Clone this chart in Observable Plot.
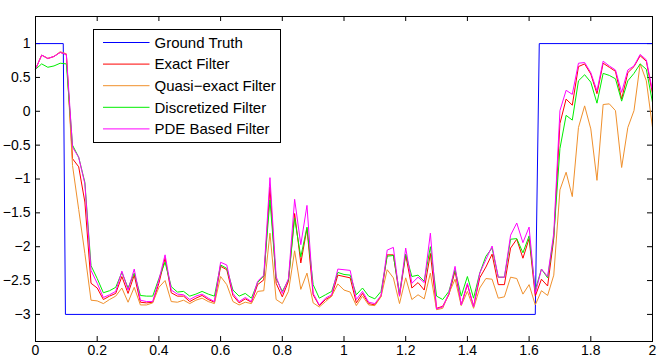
<!DOCTYPE html>
<html>
<head>
<meta charset="utf-8">
<script src="https://cdn.jsdelivr.net/npm/d3@7"></script>
<script src="https://cdn.jsdelivr.net/npm/@observablehq/plot@0.6"></script>
<style>
  html, body { margin: 0; padding: 0; background: #fff; }
  #wrap { position: relative; width: 664px; height: 360px; font-family: "Liberation Sans", Arial, Helvetica, sans-serif; }
  #legend { position: absolute; left: 92.5px; top: 29px; }
</style>
</head>
<body>
<div id="wrap"></div>
<script>
// ---- Data ----
const seriesNames = ["Ground Truth", "Exact Filter", "Quasi\u2212exact Filter", "Discretized Filter", "PDE Based Filter"];
const seriesColors = ["#0000ff", "#ff0000", "#f0902c", "#00ee00", "#ff00ff"];

// sample grid, step 0.02 from 0 to 2
const xs = d3.range(101).map(i => +(i * 0.02).toFixed(2));

const groundX = [0, 0.09, 0.097, 1.62, 1.633, 2];
const groundY = [1, 1, -3, -3, 1, 1];

const exact = [0.62,0.83,0.78,0.81,0.87,0.84,-0.70,-0.82,-1.34,-2.54,
  -2.61,-2.78,-2.73,-2.69,-2.44,-2.69,-2.42,-2.82,-2.83,-2.82,
  -2.54,-2.17,-2.68,-2.73,-2.73,-2.81,-2.76,-2.72,-2.78,-2.82,
  -2.29,-2.34,-2.72,-2.83,-2.77,-2.82,-2.56,-2.49,-1.12,-2.54,
  -2.74,-2.51,-1.51,-2.24,-1.73,-2.71,-2.87,-2.78,-2.73,-2.42,
  -2.44,-2.46,-2.83,-2.69,-2.84,-2.86,-2.73,-2.12,-2.12,-2.73,
  -2.12,-2.61,-2.53,-2.64,-2.10,-2.91,-2.88,-2.71,-2.36,-2.86,
  -2.56,-2.88,-2.46,-2.30,-2.11,-2.56,-2.56,-2.02,-1.89,-2.17,
  -1.88,-2.73,-2.48,-2.58,-1.88,-0.18,0.18,0.09,0.66,0.70,
  0.55,0.26,0.71,0.65,0.59,0.18,0.57,0.66,0.82,0.74,0.26];

const quasi = [0.62,0.83,0.78,0.81,0.88,0.85,-0.80,-1.45,-2.10,-2.79,
  -2.80,-2.84,-2.78,-2.73,-2.61,-2.82,-2.60,-2.86,-2.86,-2.83,
  -2.60,-2.50,-2.81,-2.82,-2.79,-2.84,-2.79,-2.76,-2.81,-2.84,
  -2.44,-2.56,-2.81,-2.86,-2.82,-2.84,-2.66,-2.65,-1.80,-2.78,
  -2.84,-2.66,-2.06,-2.63,-2.39,-2.83,-2.89,-2.81,-2.73,-2.55,
  -2.64,-2.67,-2.87,-2.73,-2.86,-2.87,-2.74,-2.34,-2.46,-2.84,
  -2.46,-2.78,-2.71,-2.77,-2.39,-2.93,-2.91,-2.69,-2.48,-2.87,
  -2.66,-2.91,-2.61,-2.47,-2.48,-2.76,-2.74,-2.45,-2.47,-2.70,
  -2.56,-2.86,-2.65,-2.72,-2.42,-1.16,-0.90,-1.26,-0.24,0.08,
  -0.26,-1.02,0.10,0.11,0.01,-0.83,-0.24,0.01,0.70,0.45,-0.24];

const discretized = [0.62,0.70,0.65,0.67,0.71,0.70,-0.50,-0.68,-1.05,-2.28,
  -2.47,-2.68,-2.65,-2.60,-2.38,-2.61,-2.39,-2.72,-2.73,-2.73,
  -2.47,-2.23,-2.59,-2.67,-2.66,-2.73,-2.70,-2.66,-2.70,-2.73,
  -2.27,-2.32,-2.64,-2.73,-2.69,-2.76,-2.53,-2.43,-1.31,-2.47,
  -2.66,-2.49,-1.58,-2.15,-1.71,-2.56,-2.76,-2.71,-2.66,-2.38,
  -2.41,-2.42,-2.71,-2.61,-2.73,-2.77,-2.66,-2.14,-2.13,-2.68,
  -2.11,-2.44,-2.42,-2.51,-2.00,-2.73,-2.78,-2.66,-2.34,-2.73,
  -2.44,-2.76,-2.39,-2.14,-2.02,-2.45,-2.45,-1.89,-1.88,-2.09,
  -1.84,-2.64,-2.33,-2.46,-1.85,-0.55,-0.06,-0.13,0.45,0.54,
  0.43,0.12,0.56,0.53,0.48,0.15,0.45,0.56,0.70,0.62,0.13];

const pde = [0.62,0.83,0.78,0.81,0.87,0.84,-0.53,-0.68,-1.07,-2.35,
  -2.54,-2.75,-2.71,-2.66,-2.36,-2.64,-2.33,-2.79,-2.81,-2.81,
  -2.49,-2.12,-2.64,-2.70,-2.71,-2.78,-2.73,-2.70,-2.76,-2.81,
  -2.23,-2.27,-2.69,-2.81,-2.75,-2.81,-2.51,-2.42,-0.98,-2.44,
  -2.69,-2.47,-1.30,-1.97,-1.39,-2.69,-2.86,-2.76,-2.71,-2.33,
  -2.34,-2.35,-2.78,-2.66,-2.82,-2.84,-2.72,-2.05,-2.01,-2.73,
  -2.02,-2.54,-2.45,-2.53,-1.80,-2.92,-2.89,-2.69,-2.29,-2.86,
  -2.54,-2.89,-2.39,-2.19,-1.99,-2.45,-2.45,-1.83,-1.65,-1.94,
  -1.71,-2.69,-2.33,-2.44,-1.80,0.01,0.31,0.25,0.71,0.72,
  0.57,0.30,0.74,0.67,0.61,0.28,0.61,0.67,0.84,0.76,0.30];

const xTicks = [0, 0.2, 0.4, 0.6, 0.8, 1, 1.2, 1.4, 1.6, 1.8, 2];
const yTicks = [-3, -2.5, -2, -1.5, -1, -0.5, 0, 0.5, 1];

// ---- Tables ----
const ground = groundX.map((x, i) => ({x, y: groundY[i]}));
const toRows = arr => xs.map((x, i) => ({x, y: arr[i]}));
const filters = [exact, quasi, discretized, pde].map(toRows);

// ---- Layout ----
const W = 664, H = 360;
const mL = 35, mR = 12, mT = 16, mB = 19;
const plotW = W - mL - mR, plotH = H - mT - mB;
const tickLen = 5;
const fmtX = d => String(d);
const fmtY = d => String(d).replace("-", "\u2212");

const chart = Plot.plot({
  width: W, height: H,
  marginLeft: mL, marginRight: mR, marginTop: mT, marginBottom: mB,
  x: {domain: [0, 2]},
  y: {domain: [-3.4, 1.4]},
  style: {fontFamily: "'Liberation Sans', Arial, Helvetica, sans-serif", fontSize: "14px", background: "white", color: "black", overflow: "visible"},
  marks: [
    Plot.axisX(xTicks, {tickSize: 0, tickPadding: 4, tickFormat: fmtX, label: null, fontSize: 14}),
    Plot.axisY(yTicks, {tickSize: 0, tickPadding: 5, tickFormat: fmtY, label: null, fontSize: 14}),
    Plot.tickX(xTicks, {x: d => d, insetTop: plotH - tickLen, stroke: "black"}),
    Plot.tickX(xTicks, {x: d => d, insetBottom: plotH - tickLen, stroke: "black"}),
    Plot.tickY(yTicks, {y: d => d, insetRight: plotW - tickLen, stroke: "black"}),
    Plot.tickY(yTicks, {y: d => d, insetLeft: plotW - tickLen, stroke: "black"}),
    Plot.line(ground, {x: "x", y: "y", stroke: seriesColors[0], strokeWidth: 1}),
    ...filters.map((rows, i) => Plot.line(rows, {x: "x", y: "y", stroke: seriesColors[i + 1], strokeWidth: 1})),
    Plot.frame({stroke: "black", strokeWidth: 1})
  ]
});

const wrap = document.getElementById("wrap");
wrap.appendChild(chart);

// ---- Legend (SVG overlay) ----
const lgW = 188, lgH = 114, rowH = 21.6, row0 = 13.5;
const lg = d3.create("svg")
  .attr("id", "legend")
  .attr("width", lgW).attr("height", lgH)
  .style("font-family", "'Liberation Sans', Arial, Helvetica, sans-serif")
  .style("font-size", "15px");
lg.append("rect").attr("x", 0.5).attr("y", 0.5).attr("width", lgW - 1).attr("height", lgH - 1)
  .attr("fill", "white").attr("stroke", "black");
seriesNames.forEach((name, i) => {
  const yy = row0 + i * rowH;
  lg.append("line").attr("x1", 10).attr("x2", 56.5).attr("y1", yy).attr("y2", yy)
    .attr("stroke", seriesColors[i]).attr("stroke-width", 1);
  lg.append("text").attr("x", 61.5).attr("y", yy).attr("dy", "0.35em").attr("fill", "black").text(name);
});
wrap.appendChild(lg.node());
</script>
</body>
</html>
